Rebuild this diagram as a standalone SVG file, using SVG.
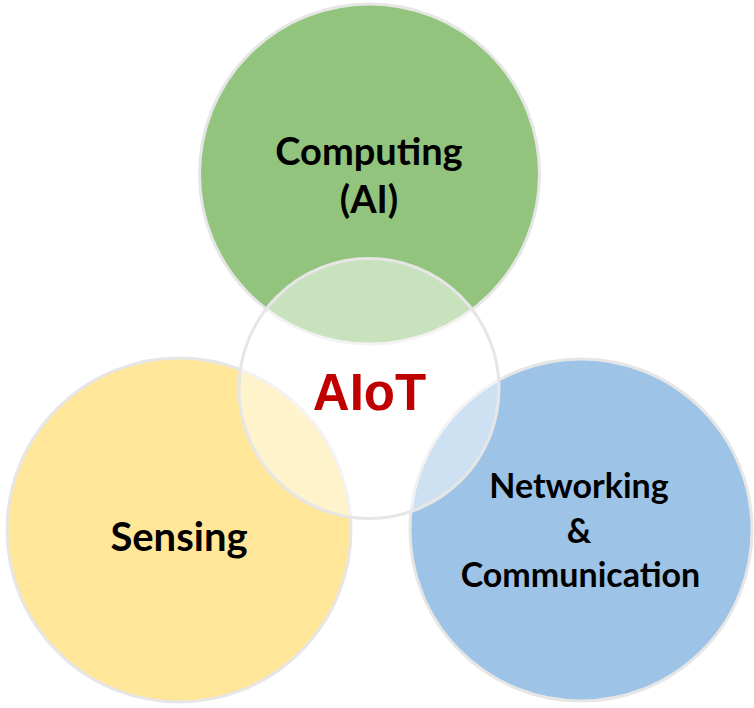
<svg xmlns="http://www.w3.org/2000/svg" width="754" height="708" viewBox="0 0 754 708">
<style>
.ring{stroke:#e6e6e6;stroke-width:3}
.lbl{font-family:Lato,"Liberation Sans",sans-serif;font-weight:bold;fill:#000;text-anchor:middle}
.big{font-size:38px}
.sen{font-size:40px}
.mid{font-size:34px}
.core{font-family:"Liberation Sans",Arial,sans-serif;font-weight:bold;font-size:51px;fill:#c00000;text-anchor:middle}
</style>
<rect width="754" height="708" fill="#ffffff"/>
<g id="computing">
<circle class="ring" cx="369.5" cy="174" r="170" fill="#93c47d"/>
</g>
<g id="sensing">
<circle class="ring" cx="179" cy="530" r="172" fill="#ffe699"/>
</g>
<g id="networking">
<circle class="ring" cx="581" cy="530" r="171" fill="#9dc3e6"/>
</g>
<g id="aiot">
<circle class="ring" cx="369" cy="388.5" r="130" fill="#ffffff" fill-opacity="0.5"/>
</g>
<g id="connectors"></g>
<g id="labels">
<text class="lbl big" x="369" y="165">Computing</text>
<text class="lbl big" x="369" y="213">(AI)</text>
<text class="lbl sen" x="179" y="551">Sensing</text>
<text class="lbl mid" x="579" y="498">Networking</text>
<text class="lbl mid" x="579" y="543">&amp;</text>
<text class="lbl mid" x="580.5" y="587">Communication</text>
<text class="core" x="369.5" y="410">AIoT</text>
</g>
</svg>
